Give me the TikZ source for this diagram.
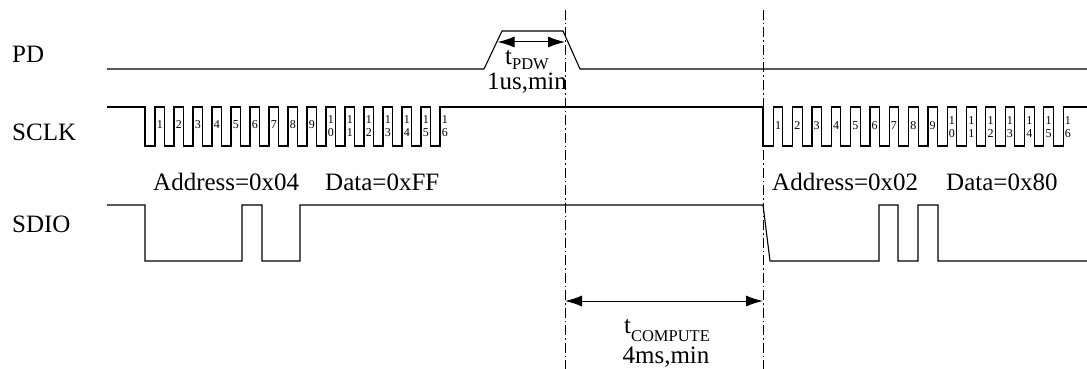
\documentclass[tikz,border=0pt]{standalone}
\usepackage{fontspec}
\setmainfont{Liberation Serif}
\usetikzlibrary{arrows.meta}
\newcommand{\subtxt}[2]{\raisebox{-#1pt}{\fontsize{16.5}{17}\selectfont #2}}
\begin{document}
\begin{tikzpicture}[x=1pt,y=-1pt,font=\fontsize{25}{28}\selectfont]
      \tikzstyle{wave}=[draw,line width=1.1pt,line join=miter]
      \tikzstyle{guide}=[draw,line width=0.8pt,dash pattern=on 10pt off 3pt on 1.5pt off 3pt]
      \tikzstyle{timing}=[draw,line width=1pt,{Latex[length=17pt,width=11pt]}-{Latex[length=17pt,width=11pt]}]
      \tikzstyle{signame}=[anchor=base west,inner sep=0pt]
      \tikzstyle{txt}=[anchor=base,inner sep=0pt]
      \tikzstyle{bit}=[inner sep=0pt,align=center,font=\fontsize{12}{13.5}\selectfont]
      \useasboundingbox (0,0) rectangle (1087,369);

      % signal names
      \node(pd)[signame] at (12,63) {PD};
      \node(sclk)[signame] at (12,140) {SCLK};
      \node(sdio)[signame] at (12,232) {SDIO};

      % PD pulse
      \draw[wave] (107,69) -- (484,69) -- (502,31) -- (563,31) -- (580,69) -- (1087,69);

      % SCLK, two bursts of 16 clocks
      \draw[wave] (107,107) -- (145,107) -- (145,146)
          \foreach \i in {0,...,14}{ -- ({155+19*\i},146) -- ({155+19*\i},107)
              -- ({164.5+19*\i},107) -- ({164.5+19*\i},146) }
          -- (440,146) -- (440,107) -- (763,107) -- (763,146)
          \foreach \i in {0,...,14}{ -- ({773.3+19.33*\i},146) -- ({773.3+19.33*\i},107)
              -- ({782.8+19.33*\i},107) -- ({782.8+19.33*\i},146) }
          -- (1063.3,146) -- (1063.3,107) -- (1087,107);
      \foreach \i in {1,...,16}{
          \pgfmathsetmacro{\xl}{159.8+19*(\i-1)}
          \pgfmathsetmacro{\xr}{1068+19.33*(\i-1)-290}
          \ifnum\i<10
              \node(la\i)[bit] at (\xl,125) {\i};
              \node(ra\i)[bit] at (\xr,126) {\i};
          \else
              \node(la\i)[bit] at (\xl,126) {1\\\the\numexpr\i-10\relax};
              \node(ra\i)[bit] at (\xr,127) {1\\\the\numexpr\i-10\relax};
          \fi
      }

      % SDIO
      \draw[wave] (107,205) -- (145,205) -- (145,261) -- (242,261) -- (242,205) -- (262,205)
          -- (262,261) -- (300,261) -- (300,205) -- (763,205) -- (770,261) -- (879,261)
          -- (879,205) -- (898,205) -- (898,261) -- (918,261) -- (918,205) -- (938,205)
          -- (938,261) -- (1087,261);
      \node(addr1)[signame] at (153,190) {Address=0x04};
      \node(data1)[signame] at (325,190) {Data=0xFF};
      \node(addr2)[signame] at (772,190) {Address=0x02};
      \node(data2)[signame] at (946,190) {Data=0x80};

      % timing marks
      \coordinate(g1t) at (565,10);
      \coordinate(g1b) at (565,369);
      \coordinate(g2t) at (763,10);
      \coordinate(g2b) at (763,369);
      \draw[guide] (g1t) -- (g1b);
      \draw[guide] (g2t) -- (g2b);
      \coordinate(pdwa) at (497.6,42);
      \coordinate(pdwb) at (g1t |- pdwa);
      \draw[timing] (pdwa) -- (pdwb);
      \node(pdw)[txt] at (527,65) {t\subtxt{5}{PDW}};
      \node(pdwmin)[txt] at (527,89) {1us,min};
      \coordinate(cmpa) at (565,301);
      \coordinate(cmpb) at (g2t |- cmpa);
      \draw[timing] (cmpa) -- (cmpb);
      \node(cmp)[txt] at (667,333) {t\subtxt{8}{COMPUTE}};
      \node(cmpmin)[txt] at (666,363) {4ms,min};
\end{tikzpicture}
\end{document}
